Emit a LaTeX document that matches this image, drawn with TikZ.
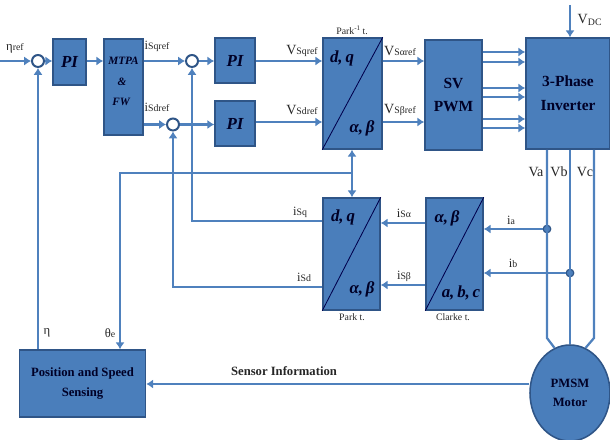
\documentclass[tikz,border=0pt]{standalone}
\usepackage{fontspec}
\setmainfont{Liberation Serif}
\usetikzlibrary{arrows.meta,shapes.geometric}
\definecolor{boxfill}{HTML}{4A7EBB}
\definecolor{boxline}{HTML}{2F5587}
\definecolor{wire}{HTML}{4F81BD}
\newcommand{\sig}[2]{#1{\scriptsize #2}}

\begin{document}
\begin{tikzpicture}[
  x=0.25mm, y=-0.25mm,
  bx/.style    ={draw=boxline, line width=1.1pt, fill=boxfill, align=center, inner sep=0pt,
                 font=\bfseries, text=black!85!blue},
  pib/.style   ={bx, font=\large\bfseries\itshape},
  bigb/.style  ={bx, font=\fontsize{11}{13}\selectfont\bfseries},
  sumn/.style  ={circle, draw=boxline, line width=1.4pt, fill=white, minimum size=3mm, inner sep=0pt},
  dotn/.style  ={circle, draw=boxline, fill=boxfill, line width=0.8pt, minimum size=1.9mm, inner sep=0pt},
  ln/.style    ={draw=wire, line width=1.6pt},
  ar/.style    ={ln, -{Latex[length=1.7mm,width=2.3mm]}},
  diag/.style  ={draw=black!70!blue, line width=0.6pt},
  lbl/.style   ={font=\small, inner sep=0pt, text=black!85},
  vlbl/.style  ={font=\normalsize, inner sep=0pt, text=black!85},
  capn/.style  ={font=\scriptsize, inner sep=0pt, text=black!85},
  xf/.style    ={font=\large\bfseries\itshape, inner sep=0pt, text=black!85!blue},
]
\useasboundingbox (0,0) rectangle (610,440);

% ---- top row ----
\node[sumn] (sumw) at ( 38,61) {};
\node[pib, minimum width=8.25mm, minimum height=11.5mm] (piw) at ( 69.5,62) {PI};
\node[bx, minimum width=9.75mm, minimum height=24mm] (mtpa) at (123.5,87) {};
\node[sumn] (sumq) at (192,61) {};
\node[sumn] (sumd) at (173,124.5) {};
\node[pib, minimum width=10mm, minimum height=11.25mm] (piq) at (235,60.5) {PI};
\node[pib, minimum width=10mm, minimum height=11.25mm] (pid) at (235,123.5) {PI};
\node[bx, minimum width=14.75mm, minimum height=27.75mm] (ipark) at (352.5,93.5) {};
\node[bigb, minimum width=14.25mm, minimum height=27.5mm] (svpwm) at (453.5,95) {SV\\[1mm]PWM};
\node[bigb, minimum width=21mm, minimum height=27.75mm] (inv) at (568,93.5) {3-Phase\\[1.5mm]Inverter};

% ---- middle row ----
\node[bx, minimum width=14.25mm, minimum height=28mm] (park) at (351.5,254) {};
\node[bx, minimum width=14.25mm, minimum height=28mm] (clarke) at (454.5,254) {};

% ---- bottom row ----
\node[bx, minimum width=31.5mm, minimum height=16.75mm, font=\small\bfseries] (pos) at (82.5,383.5) {Position and Speed\\[1mm]Sensing};
\node[bx, ellipse, minimum width=20mm, minimum height=24mm, font=\small\bfseries] (motor) at (570,393) {PMSM\\[1mm]Motor};

\node[dotn] (dota) at (547,229) {};
\node[dotn] (dotb) at (570,273) {};

% ---- free ends ----
\coordinate (in)   at (0,61);
\coordinate (vdc)  at (570,5);
\coordinate (jt)   at (352,173);
\coordinate (tht)  at (120,173);
\coordinate (yr)   at (0,122);
\coordinate (yq)   at (0,221);
\coordinate (yd)   at (0,287);
\coordinate (yal)  at (0,223);
\coordinate (ybe)  at (0,285);
\coordinate (ys)   at (0,384);
\coordinate (va)   at (547,338);
\coordinate (vc)   at (594,338);

% ---- edges ----
\draw[ar] (in) -- (sumw);
\draw[ar] (sumw) -- (piw.west |- sumw);
\draw[ar] (piw.east |- sumw) -- (mtpa.west |- sumw);
\draw[ar] (mtpa.east |- sumq) -- (sumq);
\draw[ar] (sumq) -- (piq.west |- sumq);
\draw[ar] (piq.east |- sumq) -- (ipark.west |- sumq);
\draw[ar] (mtpa.east |- sumd) -- (sumd);
\draw[ar] (sumd) -- (pid.west |- sumd);
\draw[ar] (pid.east |- yr) -- (ipark.west |- yr);
\draw[ar] (ipark.east |- sumq) -- (svpwm.west |- sumq);
\draw[ar] (ipark.east |- yr) -- (svpwm.west |- yr);
\foreach \yy in {52,62,88,97,119,128}
  \draw[ar] (svpwm.east |- 0,\yy) -- (inv.west |- 0,\yy);
\draw[ar] (vdc) -- (inv.north -| vdc);

\draw[ln] (inv.south -| va) -- (va) -- (motor.109);
\draw[ln] (inv.south -| vdc) -- (motor.north -| vdc);
\draw[ln] (inv.south -| vc) -- (vc) -- (motor.71);
\draw[ar] (dota) -- (clarke.east |- dota);
\draw[ar] (dotb) -- (clarke.east |- dotb);
\draw[ar] (clarke.west |- yal) -- (park.east |- yal);
\draw[ar] (clarke.west |- ybe) -- (park.east |- ybe);

\draw[ar] (park.west |- yq) -| (sumq.south);
\draw[ar] (park.west |- yd) -| (sumd.south);
\draw[ar] (pos.north -| sumw) -- (sumw.south);
\draw[ar] (jt) -- (tht) -- (pos.north -| tht);
\draw[ar] (jt) -- (ipark.south -| jt);
\draw[ar] (jt) -- (park.north -| jt);
\draw[ar] (motor.west |- ys) -- (pos.east |- ys);

\draw[diag] (ipark.south west) -- (ipark.north east);
\draw[diag] (park.south west) -- (park.north east);
\draw[diag] (clarke.south west) -- (clarke.north east);

% ---- block texts ----
\node[xf, font=\footnotesize\bfseries\itshape] (mtpaa) at (123.5,61) {MTPA};
\node[xf, font=\footnotesize\bfseries\itshape] (mtpab) at (122,82) {\&};
\node[xf, font=\footnotesize\bfseries\itshape] (mtpac) at (121,102) {FW};
\node[xf] (iparkdq) at (342,58) {d,\,q};
\node[xf] (iparkab) at (362,128) {α,\,β};
\node[xf] (parkdq) at (343,217) {d,\,q};
\node[xf] (parkab) at (362,289) {α,\,β};
\node[xf] (clarkeab) at (447,218) {α,\,β};
\node[xf] (clarkeabc) at (461,293) {a,\,b,\,c};

% ---- labels ----
\node[lbl] (letaref) at (15,48) {\sig{η}{ref}};
\node[lbl] (lisq) at (157,46) {\sig{i}{Sqref}};
\node[lbl] (lisd) at (157,107) {\sig{i}{Sdref}};
\node[vlbl] (lvsq) at (302,51) {\sig{V}{Sqref}};
\node[vlbl] (lvsd) at (302,110) {\sig{V}{Sdref}};
\node[vlbl] (lvsa) at (400,51) {\sig{V}{Sαref}};
\node[vlbl] (lvsb) at (400,110) {\sig{V}{Sβref}};
\node[capn] (lipark) at (352,30) {Park\textsuperscript{-1}\,t.};
\node[vlbl] (lvdc) at (590,20) {V\textsubscript{DC}};
\node[vlbl] (lva) at (536,172) {Va};
\node[vlbl] (lvb) at (559,172) {Vb};
\node[vlbl] (lvc) at (585,172) {Vc};
\node[lbl] (lia) at (511,220) {\sig{i}{a}};
\node[lbl] (lib) at (513,263) {\sig{i}{b}};
\node[lbl] (lial) at (404,213) {\sig{i}{Sα}};
\node[lbl] (libe) at (404,276) {\sig{i}{Sβ}};
\node[lbl] (lidq) at (300,212) {\sig{i}{Sq}};
\node[lbl] (lidd) at (304,277) {\sig{i}{Sd}};
\node[capn] (lpark) at (352,317) {Park t.};
\node[capn] (lclarke) at (453,317) {Clarke t.};
\node[lbl] (leta) at (47,333) {η};
\node[lbl] (lthe) at (110,333) {\sig{θ}{e}};
\node[lbl, font=\small\bfseries] (lsens) at (284,371) {Sensor Information};
\end{tikzpicture}
\end{document}
